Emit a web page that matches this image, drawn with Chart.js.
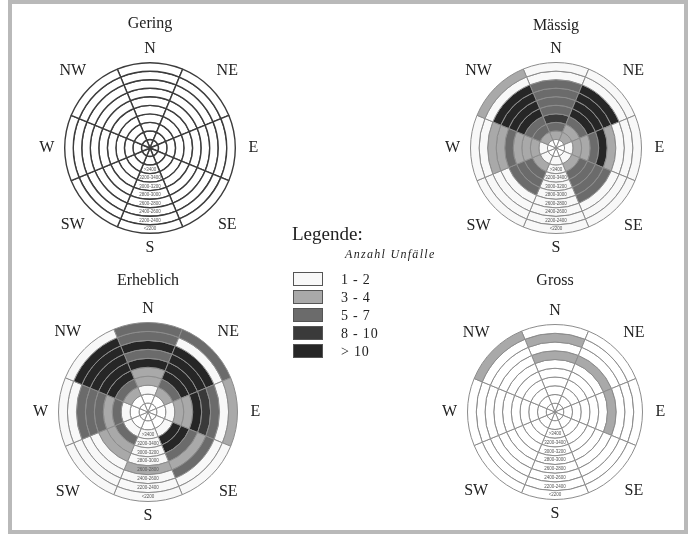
<!DOCTYPE html>
<html>
<head>
<meta charset="utf-8">
<script src="https://cdn.jsdelivr.net/npm/chart.js@4.4.1/dist/chart.umd.min.js"></script>
<style>
  html, body { margin: 0; padding: 0; background: #fff; overflow: hidden; }
  #page { position: relative; width: 695px; height: 536px; }
  #rahmen { position: absolute; left: 8px; top: 0px; width: 672px; height: 526px; border: 4px solid #b9b9b9; }
  canvas { position: absolute; }
</style>
</head>
<body>
<div id="page">
  <div id="rahmen"></div>
</div>
<script>
// Himmelsrichtungen (Sektoren, im Uhrzeigersinn ab N)
const richtungen = ['N', 'NE', 'E', 'SE', 'S', 'SW', 'W', 'NW'];

// Ringe von innen nach aussen (Beschriftung im Sektor S)
const ringLabels = ['', '', '>3400', '3200-3400', '3000-3200', '2800-3000', '2600-2800', '2400-2600', '2200-2400', '<2200'];

// Klassen: 0 = keine, 1 = 1-2, 2 = 3-4, 3 = 5-7, 4 = 8-10, 5 = >10
const klassenFarben = ['#ffffff', '#f8f8f8', '#a9a9a9', '#6b6b6b', '#3a3a3a', '#262626'];
const legendeTexte = ['1 - 2', '3 - 4', '5 - 7', '8 - 10', '> 10'];

// je Sektor (N..NW) die Klasse pro Ring, innen -> aussen
const gering = [
  [0,0,0,0,0,0,0,0,0,0],
  [0,0,0,0,0,0,0,0,0,0],
  [0,0,0,0,0,0,0,0,0,0],
  [0,0,0,0,0,0,0,0,0,0],
  [0,0,0,0,0,0,0,0,0,0],
  [0,0,0,0,0,0,0,0,0,0],
  [0,0,0,0,0,0,0,0,0,0],
  [0,0,0,0,0,0,0,0,0,0]
];
const maessig = [
  [0,2,3,4,3,3,3,3,1,1],
  [0,2,2,3,5,5,5,5,1,1],
  [0,1,2,2,3,5,2,1,1,1],
  [0,1,2,3,3,3,3,1,1,1],
  [0,1,1,1,1,1,1,1,1,1],
  [0,1,2,3,3,3,1,1,1,1],
  [0,1,2,2,2,3,2,2,1,1],
  [0,2,3,3,5,5,5,5,1,2]
];
const erheblich = [
  [0,0,1,2,2,5,3,5,3,3],
  [0,0,2,3,5,5,5,5,1,3],
  [0,0,1,2,2,5,4,3,1,2],
  [0,0,1,5,5,3,2,3,1,1],
  [0,0,1,1,1,1,2,1,1,1],
  [0,0,1,3,2,2,1,1,1,1],
  [0,0,1,3,2,3,3,3,1,1],
  [0,0,2,3,5,5,5,5,5,1]
];
const gross = [
  [0,0,0,0,0,0,2,0,2,0],
  [0,0,0,0,0,0,2,0,0,0],
  [0,0,0,0,0,0,2,0,0,0],
  [0,0,0,0,0,0,0,0,0,0],
  [0,0,0,0,0,0,0,0,0,0],
  [0,0,0,0,0,0,0,0,0,0],
  [0,0,0,0,0,0,0,0,0,0],
  [0,0,0,0,0,0,0,0,0,2]
];

const diagramme = [
  { titel: 'Gering', werte: gering, cx: 150, cy: 148, r: 86, titelAbstand: 39, linie: '#3c3c3c', breite: 1.4 },
  { titel: 'Mässig', werte: maessig, cx: 556, cy: 148, r: 86, titelAbstand: 37, linie: '#8c8c8c', breite: 1 },
  { titel: 'Erheblich', werte: erheblich, cx: 148, cy: 412, r: 90, titelAbstand: 42, linie: '#8c8c8c', breite: 1 },
  { titel: 'Gross', werte: gross, cx: 555, cy: 412, r: 88, titelAbstand: 44, linie: '#8c8c8c', breite: 1 }
];

const CW = 280, CH = 290;

// Beschriftungen: Titel, Himmelsrichtungen, Ringe im Sektor S
const beschriftung = {
  id: 'beschriftung',
  afterDraw(chart, args, opts) {
    const ctx = chart.ctx;
    const aussen = chart.getDatasetMeta(0).data[0];
    const x0 = aussen.x, y0 = aussen.y, R = aussen.outerRadius;
    ctx.save();
    ctx.fillStyle = '#222';
    ctx.textAlign = 'center';
    ctx.textBaseline = 'middle';
    ctx.font = '16px "Liberation Serif", serif';
    ctx.fillText(opts.text, x0, y0 - R - opts.abstand);
    richtungen.forEach((t, i) => {
      const a = i * Math.PI / 4;
      let d = R + 24;
      if (i === 0 || i === 4) d = R + 14;
      if (i === 2 || i === 6) d = R + 18;
      ctx.fillText(t, x0 + d * Math.sin(a), y0 - d * Math.cos(a));
    });
    // Ringbeschriftung
    ctx.font = '4.5px "Liberation Sans", sans-serif';
    ctx.fillStyle = '#555';
    const n = chart.data.datasets.length;
    for (let di = 0; di < n; di++) {
      const ring = n - 1 - di;
      const txt = ringLabels[ring];
      if (!txt) continue;
      const arc = chart.getDatasetMeta(di).data[4];
      const rm = (arc.innerRadius + arc.outerRadius) / 2;
      ctx.fillText(txt, arc.x, arc.y + rm);
    }
    ctx.restore();
  }
};

const page = document.getElementById('page');

diagramme.forEach(dg => {
  const canvas = document.createElement('canvas');
  canvas.width = CW;
  canvas.height = CH;
  canvas.style.left = (dg.cx - CW / 2) + 'px';
  canvas.style.top = (dg.cy - 150) + 'px';
  page.appendChild(canvas);

  // ein Datensatz pro Ring, aussen zuerst
  const datasets = [];
  for (let ring = ringLabels.length - 1; ring >= 0; ring--) {
    datasets.push({
      data: richtungen.map(() => 1),
      backgroundColor: dg.werte.map(sektor => klassenFarben[sektor[ring]]),
      borderColor: dg.linie,
      borderWidth: dg.breite
    });
  }

  new Chart(canvas, {
    type: 'doughnut',
    data: { labels: richtungen, datasets: datasets },
    options: {
      responsive: false,
      animation: false,
      cutout: 0,
      rotation: -22.5,
      layout: {
        padding: { left: CW / 2 - dg.r, right: CW / 2 - dg.r, top: 150 - dg.r, bottom: CH - 150 - dg.r }
      },
      plugins: {
        legend: { display: false },
        tooltip: { enabled: false },
        beschriftung: { text: dg.titel, abstand: dg.titelAbstand }
      }
    },
    plugins: [beschriftung]
  });
});

// Legende
const lc = document.createElement('canvas');
lc.width = 170;
lc.height = 145;
lc.style.left = '285px';
lc.style.top = '222px';
page.appendChild(lc);
const g = lc.getContext('2d');
g.fillStyle = '#222';
g.textBaseline = 'middle';
g.font = '19px "Liberation Serif", serif';
g.fillText('Legende:', 7, 13);
g.font = 'italic 12px "Liberation Serif", serif';
g.letterSpacing = '1.3px';
g.fillText('Anzahl Unfälle', 60, 33);
g.letterSpacing = '0.8px';
g.font = '14px "Liberation Serif", serif';
legendeTexte.forEach((t, i) => {
  const y = 50 + i * 18;
  g.fillStyle = klassenFarben[i + 1];
  g.fillRect(8.5, y + 0.5, 29, 13);
  g.strokeStyle = '#555';
  g.lineWidth = 1;
  g.strokeRect(8.5, y + 0.5, 29, 13);
  g.fillStyle = '#222';
  g.fillText(t, 56, y + 8);
});
</script>
</body>
</html>
